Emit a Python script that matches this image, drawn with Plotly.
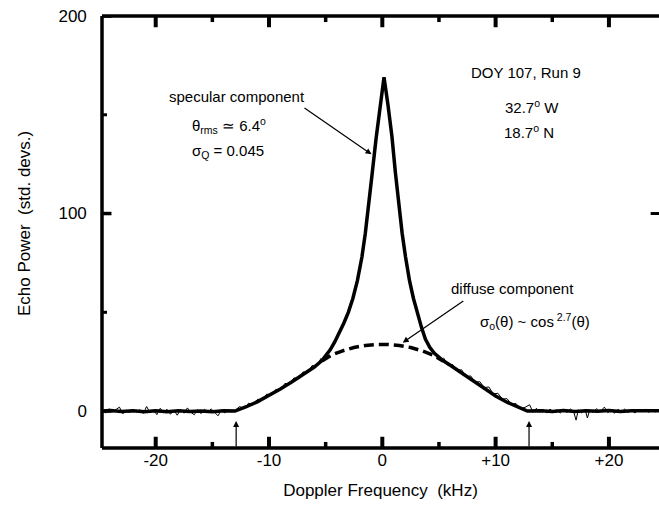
import plotly.graph_objects as go

# ---- data ----
# measured echo spectrum, smooth part (kHz, std. devs.)
spec_x = [-24.9, -24, -23, -22, -21, -20, -19, -18, -17, -16, -15, -14, -13,
          -12.5, -12, -11, -10, -9, -8, -7, -6, -5.33,
          -5.0, -4.6, -4.2, -3.8, -3.4, -3.0, -2.6, -2.2, -1.8, -1.5, -1.2, -0.9, -0.55, -0.2, 0.15,
          0.5, 0.85, 1.15, 1.45, 1.75, 2.05, 2.4, 2.75, 3.15, 3.45, 3.8, 4.2, 4.6, 5.0, 5.35,
          6, 7, 8, 9, 10, 11, 12, 12.8,
          14, 15, 16, 17, 18, 19, 20, 21, 22, 23, 24.5]
spec_y = [0, 0.3, -0.2, 0.2, -0.3, 0.2, -0.4, 0.2, -0.2, 0, -0.3, 0.2, 0,
          1.0, 2.2, 4.8, 7.8, 11.2, 14.7, 18.4, 22.3, 25.6,
          27.8, 31, 35, 39.5, 44.5, 50, 57, 66, 78, 90, 104, 120, 138, 154, 169,
          155, 139, 121, 104, 90, 78, 66, 57, 48.5, 42.5, 36.5, 32.2, 29.2, 27.2, 25.6,
          23.2, 19.4, 15.4, 11.4, 7.6, 4.5, 1.8, 0,
          0.2, -0.2, 0.3, -0.2, 0.2, -0.1, 0.3, -0.2, 0.2, 0, 0.1]

# measured noise (thin overlay) on the wings
noise_x = [-24.7, -24.4, -24.1, -23.8, -23.5, -23.2, -22.9, -22.6, -22.3, -22.0,
           -21.7, -21.4, -21.1, -20.8, -20.5, -20.2, -19.9, -19.6, -19.3, -19.0,
           -18.7, -18.4, -18.1, -17.8, -17.5, -17.2, -16.9, -16.6, -16.3, -16.0,
           -15.7, -15.4, -15.1, -14.8, -14.5, -14.2, -13.9, -13.6, -13.3, -13.0,
           -12.6, -12.2, -11.8, -11.4, -11.0, -10.6, -10.2, -9.8, -9.4, -9.0,
           -8.6, -8.2, -7.8, -7.4, -7.0, -6.6, -6.2, -5.8, -5.4]
noise_y = [0.5, -1.0, 1.2, -0.6, 0.8, 2.0, -1.4, 0.4, -0.8, 1.0,
           -0.5, 0.7, -1.2, 2.3, -0.9, 0.6, -1.8, 1.4, -0.7, 0.9,
           -1.6, 0.5, -2.1, 0.8, -1.1, 1.6, -0.6, -1.9, 0.7, -1.3,
           0.9, -0.5, 1.1, -0.8, -2.4, 0.6, -1.0, 0.8, -0.4, 0.3,
           2.3, 1.2, 4.0, 3.2, 6.0, 5.5, 8.6, 7.9, 11.0, 10.6,
           14.0, 13.5, 16.8, 16.3, 19.8, 19.4, 23.0, 22.8, 26.8]
noise_rx = [5.4, 5.8, 6.2, 6.6, 7.0, 7.4, 7.8, 8.2, 8.6, 9.0,
            9.4, 9.8, 10.2, 10.6, 11.0, 11.4, 11.8, 12.2, 12.6, 13.0,
            13.3, 13.6, 13.9, 14.2, 14.5, 14.8, 15.1, 15.4, 15.7, 16.0,
            16.3, 16.6, 16.9, 17.1, 17.3, 17.6, 17.9, 18.1, 18.3, 18.6,
            18.9, 19.2, 19.6, 19.9, 20.2, 20.5, 20.8, 21.1, 21.4, 21.7,
            22.0, 22.3, 22.6, 22.9, 23.2, 23.5, 23.8, 24.1, 24.4]
noise_ry = [27.0, 23.0, 23.6, 20.6, 20.9, 17.4, 17.8, 14.6, 14.9, 11.9,
            12.2, 8.6, 9.0, 6.0, 6.3, 3.5, 3.8, 1.2, 1.9, 3.2,
            -0.6, 1.4, -0.5, 0.8, -0.9, 1.0, -0.4, 0.7, -1.0, 0.6,
            -0.8, 1.1, -0.6, -4.6, 0.5, -0.9, 0.8, -3.5, 0.4, -0.7,
            1.2, -0.5, 2.0, -0.8, 0.6, -1.1, 0.9, -0.4, 1.0, -0.7,
            0.5, -1.0, 0.8, -0.3, 0.9, -0.6, 0.7, -0.4, 0.5]

# diffuse component model (dashed)
diff_x = [-5.33, -4.5, -3.5, -2.5, -1.5, -0.5, 0.5, 1.5, 2.5, 3.5, 4.5, 5.35]
diff_y = [25.4, 28.3, 30.5, 32.2, 33.2, 33.7, 33.7, 33.2, 32.2, 30.5, 28.3, 25.4]

# spectral edges (arrows)
edge_x = [-12.9, 12.95]

x_tickvals = [-20, -10, 0, 10, 20]
x_ticktext = ["-20", "-10", "0", "+10", "+20"]
x_minor = [-15, -5, 5, 15]
y_tickvals = [0, 100, 200]
y_ticktext = ["0", "100", "200"]
y_minor = [50, 150]

X_RANGE = [-24.74, 24.42]
Y_RANGE = [-18.7, 200]

FONT = "Liberation Sans, Arial, Helvetica, sans-serif"
NB = "\u00a0"

fig = go.Figure()
fig.add_trace(go.Scatter(x=noise_x, y=noise_y, mode="lines",
                         line=dict(color="black", width=1), hoverinfo="skip"))
fig.add_trace(go.Scatter(x=noise_rx, y=noise_ry, mode="lines",
                         line=dict(color="black", width=1), hoverinfo="skip"))
fig.add_trace(go.Scatter(x=spec_x, y=spec_y, mode="lines",
                         line=dict(color="black", width=3.5)))
fig.add_trace(go.Scatter(x=diff_x, y=diff_y, mode="lines",
                         line=dict(color="black", width=3.5, dash="10px,5px")))

ann = []
for ex in edge_x:
    ann.append(dict(x=ex, y=-5, ax=ex, ay=-18.7, xref="x", yref="y",
                    axref="x", ayref="y", text="", showarrow=True,
                    arrowhead=2, arrowsize=1, arrowwidth=1.2, arrowcolor="black"))
# pointer arrows
ann.append(dict(x=-0.95, y=130, ax=-7.0, ay=153.9, xref="x", yref="y",
                axref="x", ayref="y", text="", showarrow=True,
                arrowhead=2, arrowsize=1, arrowwidth=1.2, arrowcolor="black"))
ann.append(dict(x=1.8, y=34.6, ax=7.28, ay=56.2, xref="x", yref="y",
                axref="x", ayref="y", text="", showarrow=True,
                arrowhead=2, arrowsize=1, arrowwidth=1.2, arrowcolor="black"))

def txt(x, y, s, xanchor="center"):
    ann.append(dict(x=x, y=y, xref="x", yref="y", text=s, showarrow=False,
                    xanchor=xanchor, yanchor="middle",
                    font=dict(family=FONT, size=15, color="black")))

txt(-12.83, 159, "specular component")
txt(-16.98, 144.8, "θ<sub>rms</sub> ≃ 6.4<sup>o</sup>", "left")
txt(-16.98, 131.6, "σ<sub>Q</sub> = 0.045", "left")
txt(12.68, 171.6, "DOY 107, Run 9")
txt(13.2, 154.4, "32.7<sup>o</sup> W")
txt(12.95, 141.3, "18.7<sup>o</sup> N")
txt(11.49, 62.3, "diffuse component")
txt(8.44, 45.1, "σ<sub>o</sub>(θ) ~ cos<sup> 2.7</sup>(θ)", "left")

# y-axis title as a rotated annotation (exact position)
ann.append(dict(x=0, y=0.5185, xref="paper", yref="paper", xshift=-78,
                text="Echo Power  (std. devs.)", textangle=-90, showarrow=False,
                xanchor="center", yanchor="middle",
                font=dict(family=FONT, size=17, color="black")))

# frame lines (left, bottom, top); right edge is cut off in the original
frame = dict(color="black", width=3.5)
shapes = [
    dict(type="line", xref="paper", yref="paper", x0=0, x1=0, y0=0, y1=1, line=frame),
    dict(type="line", xref="paper", yref="paper", x0=0, x1=1, y0=0, y1=0, line=frame),
    dict(type="line", xref="paper", yref="paper", x0=0, x1=1, y0=1, y1=1, line=frame),
    dict(type="line", xref="paper", yref="y", x0=0.985, x1=1.0, y0=100, y1=100,
         line=dict(color="black", width=3)),
]
# inward tick marks drawn at the tick values (bottom and top of the frame)
MAJ, MIN = 0.026, 0.014
for v in x_tickvals:
    shapes.append(dict(type="line", xref="x", yref="paper", x0=v, x1=v, y0=0, y1=MAJ,
                       line=dict(color="black", width=4)))
    shapes.append(dict(type="line", xref="x", yref="paper", x0=v, x1=v, y0=1, y1=1 - MAJ,
                       line=dict(color="black", width=4)))
for v in x_minor:
    shapes.append(dict(type="line", xref="x", yref="paper", x0=v, x1=v, y0=0, y1=MIN,
                       line=dict(color="black", width=3.5)))
    shapes.append(dict(type="line", xref="x", yref="paper", x0=v, x1=v, y0=1, y1=1 - MIN,
                       line=dict(color="black", width=3.5)))
for v in y_tickvals:
    shapes.append(dict(type="line", xref="paper", yref="y", x0=0, x1=0.017, y0=v, y1=v,
                       line=dict(color="black", width=3.5)))
for v in y_minor:
    shapes.append(dict(type="line", xref="paper", yref="y", x0=0, x1=0.009, y0=v, y1=v,
                       line=dict(color="black", width=3)))

fig.update_layout(
    width=659, height=507,
    margin=dict(l=102, r=0, t=16, b=59, autoexpand=False),
    paper_bgcolor="white", plot_bgcolor="white",
    showlegend=False,
    font=dict(family=FONT, size=17, color="black"),
    annotations=ann,
    shapes=shapes,
    xaxis=dict(range=X_RANGE, tickvals=x_tickvals, ticktext=x_ticktext,
               ticks="", showline=False,
               showgrid=False, zeroline=False, automargin=False,
               title=dict(text="Doppler Frequency  (kHz)",
                          font=dict(family=FONT, size=17)),
               tickfont=dict(family=FONT, size=17)),
    yaxis=dict(range=Y_RANGE, tickvals=y_tickvals,
               ticktext=[t + NB + NB + NB for t in y_ticktext],
               ticks="", showline=False,
               showgrid=False, zeroline=False, automargin=False,
               tickfont=dict(family=FONT, size=17)),
)

fig.write_html("out.html", config={"displayModeBar": False},
               post_script="document.body.style.margin='0';document.body.style.overflow='hidden';")
